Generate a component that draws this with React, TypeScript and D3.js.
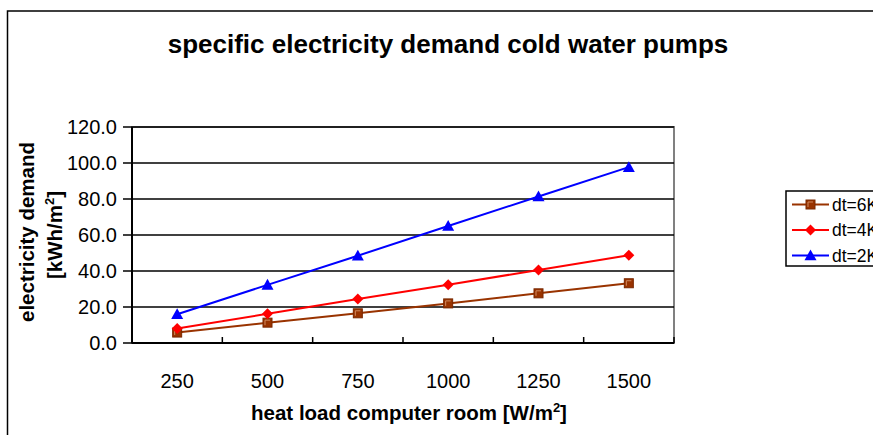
import React from "react";
import * as d3 from "d3";

// Heat load categories (W/m²) and the three temperature-difference series (kWh/m²)
const categories = ["250", "500", "750", "1000", "1250", "1500"];
const dt6K = [5.8, 11.3, 16.5, 22.0, 27.6, 33.2];
const dt4K = [8.1, 16.2, 24.4, 32.3, 40.6, 48.7];
const dt2K = [16.0, 32.3, 48.5, 65.0, 81.4, 97.7];
const yTicks = [0, 20, 40, 60, 80, 100, 120];

const seriesList = [
  { name: "dt=6K", values: dt6K, color: "#993300", marker: "square" },
  { name: "dt=4K", values: dt4K, color: "#FF0000", marker: "diamond" },
  { name: "dt=2K", values: dt2K, color: "#0000FF", marker: "triangle" },
];

const W = 873;
const H = 435;
const plot = { left: 132, right: 674, top: 127, bottom: 343 };
const font = "Arial, 'Liberation Sans', Helvetica, sans-serif";

function Marker({ type, x, y, color }: { type: string; x: number; y: number; color: string }) {
  if (type === "square") {
    return (
      <g>
        <rect x={x - 4.5} y={y - 4.5} width={9} height={9} fill={color} stroke="#7a2800" strokeWidth={1} />
        <path d={`M${x - 2.5},${y + 2.5}V${y - 2.5}H${x + 2.5}`} fill="none" stroke="#d08a60" strokeWidth={1} />
      </g>
    );
  }
  if (type === "diamond") {
    const r = 5.5;
    return <path d={`M${x},${y - r}L${x + r},${y}L${x},${y + r}L${x - r},${y}Z`} fill={color} />;
  }
  const s = 6;
  return <path d={`M${x},${y - s}L${x + s},${y + s * 0.8}L${x - s},${y + s * 0.8}Z`} fill={color} />;
}

export default function App() {
  const x = d3.scaleBand<string>().domain(categories).range([plot.left, plot.right]);
  const y = d3.scaleLinear().domain([0, 120]).range([plot.bottom, plot.top]);
  const line = d3
    .line<number>()
    .x((_, i) => (x(categories[i]) as number) + x.bandwidth() / 2)
    .y((v) => y(v));

  const bandEdges = categories.map((c) => x(c) as number).concat([plot.right]);

  return (
    <svg
      width={W}
      height={H}
      style={{ position: "absolute", left: 0, top: 0, background: "#fff" }}
      fontFamily={font}
    >
      <rect x={0} y={0} width={W} height={H} fill="#fff" />
      {/* chart frame */}
      <rect x={7.5} y={11} width={W + 10} height={H + 10} fill="none" stroke="#000" strokeWidth={1.5} />

      <text x={448} y={53} textAnchor="middle" fontSize={26} fontWeight="bold">
        specific electricity demand cold water pumps
      </text>

      {/* plot area border */}
      <rect
        x={plot.left}
        y={plot.top}
        width={plot.right - plot.left}
        height={plot.bottom - plot.top}
        fill="#fff"
        stroke="#808080"
        strokeWidth={2}
      />

      {/* gridlines */}
      {yTicks.map((t) => (
        <line key={"g" + t} x1={plot.left} x2={plot.right} y1={y(t)} y2={y(t)} stroke="#000" strokeWidth={1.5} />
      ))}

      {/* y axis */}
      <line x1={plot.left} x2={plot.left} y1={plot.top} y2={plot.bottom} stroke="#000" strokeWidth={2} />
      {yTicks.map((t) => (
        <g key={"y" + t}>
          <line x1={plot.left - 9} x2={plot.left} y1={y(t)} y2={y(t)} stroke="#000" strokeWidth={1.5} />
          <text x={117} y={y(t) + 7} textAnchor="end" fontSize={20}>
            {t.toFixed(1)}
          </text>
        </g>
      ))}

      {/* x axis */}
      <line x1={plot.left} x2={plot.right} y1={plot.bottom} y2={plot.bottom} stroke="#000" strokeWidth={2} />
      {bandEdges.map((e, i) => (
        <line key={"xt" + i} x1={e} x2={e} y1={plot.bottom - 6} y2={plot.bottom} stroke="#000" strokeWidth={1.5} />
      ))}
      {categories.map((c) => (
        <text key={"xl" + c} x={(x(c) as number) + x.bandwidth() / 2} y={388} textAnchor="middle" fontSize={20}>
          {c}
        </text>
      ))}

      {/* axis titles */}
      <text x={409} y={420} textAnchor="middle" fontSize={20.5} fontWeight="bold">
        heat load computer room [W/m<tspan dy={-8} fontSize={13}>2</tspan>
        <tspan dy={8}>]</tspan>
      </text>
      <g transform="translate(34,232) rotate(-90)">
        <text x={0} y={0} textAnchor="middle" fontSize={20.5} fontWeight="bold">
          electricity demand
        </text>
      </g>
      <g transform="translate(62,235) rotate(-90)">
        <text x={0} y={0} textAnchor="middle" fontSize={20.5} fontWeight="bold">
          [kWh/m<tspan dy={-8} fontSize={13}>2</tspan>
          <tspan dy={8}>]</tspan>
        </text>
      </g>

      {/* series */}
      {seriesList.map((s) => (
        <g key={s.name}>
          <path d={line(s.values) as string} fill="none" stroke={s.color} strokeWidth={2} />
          {s.values.map((v, i) => (
            <Marker
              key={i}
              type={s.marker}
              x={(x(categories[i]) as number) + x.bandwidth() / 2}
              y={y(v)}
              color={s.color}
            />
          ))}
        </g>
      ))}

      {/* legend */}
      <rect x={786} y={191} width={120} height={75} fill="#fff" stroke="#000" strokeWidth={1.5} />
      {seriesList.map((s, i) => {
        const cy = 204.5 + i * 25.5;
        return (
          <g key={"lg" + s.name}>
            <line x1={792} x2={829} y1={cy} y2={cy} stroke={s.color} strokeWidth={2} />
            <Marker type={s.marker} x={810.5} y={cy} color={s.color} />
            <text x={832} y={cy + 6} fontSize={17.5}>
              {s.name}
            </text>
          </g>
        );
      })}
    </svg>
  );
}
